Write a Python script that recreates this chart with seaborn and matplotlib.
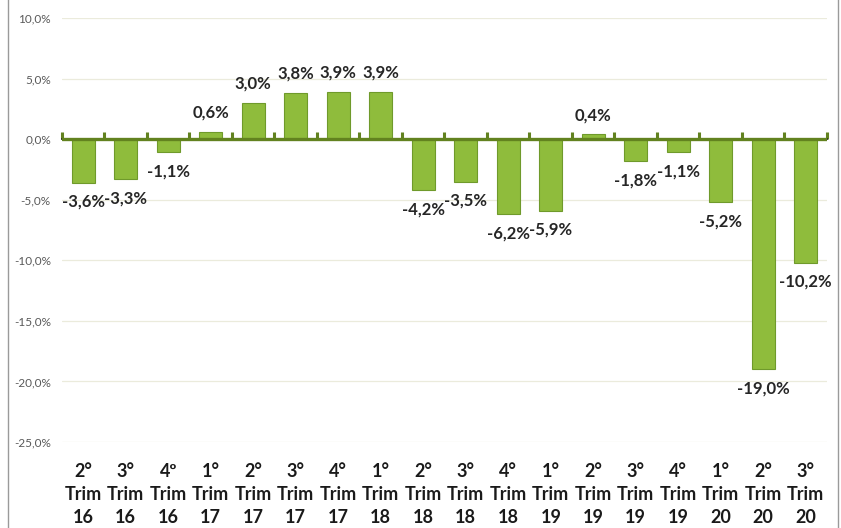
import matplotlib
matplotlib.use("Agg")
import matplotlib.pyplot as plt
import seaborn as sns
from matplotlib.patches import Rectangle

# Quarterly variation (%)
quarters = ["2°", "3°", "4º", "1°", "2°", "3°", "4°", "1°", "2°", "3°",
            "4°", "1°", "2°", "3°", "4°", "1°", "2°", "3°"]
years = ["16", "16", "16", "17", "17", "17", "17", "18", "18", "18",
         "18", "19", "19", "19", "19", "20", "20", "20"]
values = [-3.6, -3.3, -1.1, 0.6, 3.0, 3.8, 3.9, 3.9, -4.2, -3.5,
          -6.2, -5.9, 0.4, -1.8, -1.1, -5.2, -19.0, -10.2]
y_ticks = [10, 5, 0, -5, -10, -15, -20, -25]

labels = [f"{q}\nTrim\n{y}" for q, y in zip(quarters, years)]

sns.set_theme(style="white")
plt.rcParams['font.family'] = ['Lato', 'DejaVu Sans']

fig = plt.figure(figsize=(8.41, 5.28), dpi=100)
ax = fig.add_axes([62 / 841, 1 - 442 / 528, (827 - 62) / 841, (442 - 18) / 528])

sns.barplot(x=labels, y=values, color="#8FBC3C", width=0.54,
            edgecolor="#6F9A2B", linewidth=0.8, saturation=1, ax=ax)

ax.set_ylim(-25, 10)
ax.set_xlim(-0.5, len(values) - 0.5)
ax.set_yticks(y_ticks)
ax.set_yticklabels([f"{v:.1f}%".replace(".", ",") for v in y_ticks],
                   fontsize=8.5, color="#595959")
ax.tick_params(axis="y", length=0, pad=8)
ax.tick_params(axis="x", length=0, pad=15)
for t in ax.get_xticklabels():
    t.set_fontsize(13)
    t.set_fontweight("bold")
    t.set_color("#1a1a1a")
    t.set_linespacing(1.45)
ax.grid(axis="y", color="#EBEBDC", linewidth=0.9)
ax.set_axisbelow(True)
for s in ax.spines.values():
    s.set_visible(False)

# zero axis with tick marks between categories
ax.axhline(0, color="#62821F", linewidth=2.4, zorder=3)
zero = ax.secondary_xaxis(25 / 35)
zero.set_xticks([i - 0.5 for i in range(len(values) + 1)])
zero.set_xticklabels([])
zero.tick_params(length=5, width=2.2, color="#62821F", direction="out")
zero.spines["bottom"].set_visible(False)

for c in ax.containers:
    ax.bar_label(c, labels=[f"{v:.1f}%".replace(".", ",") for v in values],
                 padding=8, fontsize=12, fontweight="bold", color="#262626")

fig.patches.append(Rectangle((8 / 841, -0.01), 830 / 841, 1.02,
                             transform=fig.transFigure, fill=False,
                             edgecolor="#9A9A9A", linewidth=1))

ax.set_xlabel("")
ax.set_ylabel("")
fig.savefig("out.png", dpi=100)
